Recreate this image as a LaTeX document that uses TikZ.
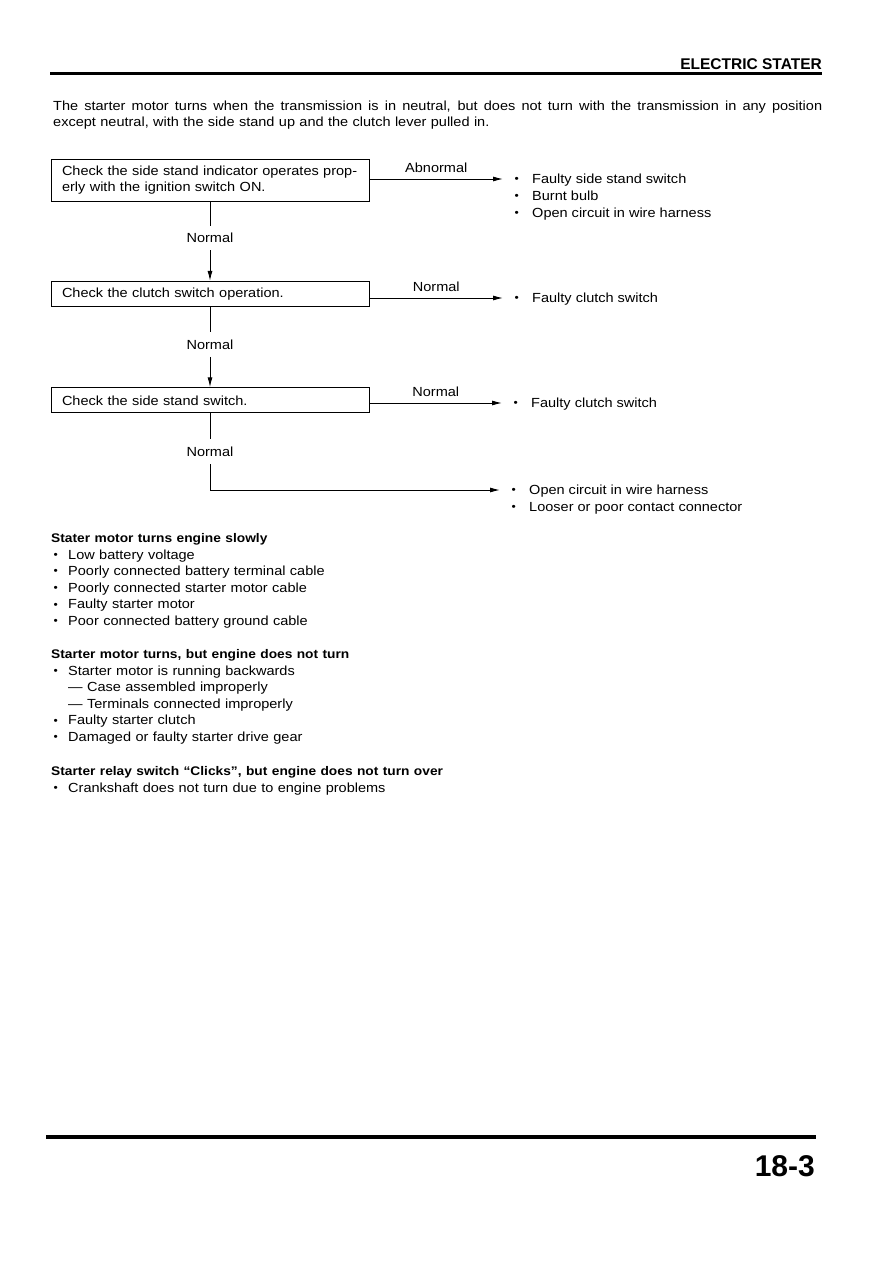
\documentclass[tikz,border=0pt]{standalone}
\usepackage{fontspec}
\setmainfont{Liberation Sans}[FakeStretch=1.1]
\newfontfamily\headfont{Liberation Sans}
\usetikzlibrary{positioning,arrows.meta}

\newcommand{\dotmark}{{\fontsize{11}{11}\selectfont\raisebox{0.9pt}{\textbullet}}}
\newcommand{\itm}{\makebox[29pt][l]{\hspace{11.5pt}\dotmark}}
\newcommand{\blt}{\makebox[17pt][l]{\hspace{2.5pt}\dotmark}}

\begin{document}
\begin{tikzpicture}[
    x=1pt, y=-1pt,
    every node/.style={font=\fontsize{13.2}{16}\selectfont},
    check/.style={rectangle, draw, line width=1pt, minimum width=318pt, text width=296pt, inner xsep=11pt, align=left},
    cond/.style={inner xsep=2pt, inner ysep=7.5pt, text height=9.5pt, text depth=0pt},
    res/.style={anchor=west, inner sep=0pt, text height=13pt, text depth=3.5pt},
    sect/.style={anchor=base west, inner sep=0pt, text width=420pt, align=left, font=\fontsize{13.2}{16.6}\selectfont},
    head/.style={anchor=base east, inner sep=0pt},
    arrow/.style={-{Latex[length=10pt,width=5pt]}, line width=1pt},
    conn/.style={line width=1pt},
    rule/.style={line width=3.6pt}
]
\useasboundingbox[fill=white] (0,0) rectangle (893,1263);

% ===== PAGE HEADER =====
\node[head, font=\headfont\fontsize{15.5}{15.5}\selectfont\bfseries] (title) at (822,70) {ELECTRIC STATER};
\draw[rule] (50,73.5) -- (822,73.5);

\node[anchor=base west, inner sep=0pt, text width=769pt, align=left, font=\fontsize{13.2}{16.8}\selectfont] (intro) at (53,110)
  {\makebox[769pt][s]{\spaceskip=3.6pt plus 1fil The starter motor turns when the transmission is in neutral, but does not turn with the transmission in any position}\\except neutral, with the side stand up and the clutch lever pulled in.};

% ===== CHECK CHAIN =====
\node[check, minimum height=42pt] (box1) at (210,180) {Check the side stand indicator operates prop-\\erly with the ignition switch ON.};
\node[cond, below=24pt of box1] (n1) {Normal};
\node[check, minimum height=25pt, below=30.5pt of n1] (box2) {Check the clutch switch operation.};
\node[cond, below=25pt of box2] (n2) {Normal};
\node[check, minimum height=25pt, below=30.5pt of n2] (box3) {Check the side stand switch.};
\node[cond, below=26pt of box3] (n3) {Normal};

% ===== RESULTS =====
\node[res] (r1) at (503,179) {\itm Faulty side stand switch};
\node[res, below=0pt of r1.south west, anchor=north west] (r1b) {\itm Burnt bulb};
\node[res, below=0pt of r1b.south west, anchor=north west] (r1c) {\itm Open circuit in wire harness};

\node[res] (r2) at (503,298) {\itm Faulty clutch switch};

\node[res] (r3) at (502,403) {\itm Faulty clutch switch};

\node[res] (r4) at (500,490) {\itm Open circuit in wire harness};
\node[res, below=0pt of r4.south west, anchor=north west] (r4b) {\itm Looser or poor contact connector};

% ===== ARROWS =====
\draw[conn] (box1) -- (n1);
\draw[arrow] (n1) -- (box2);
\draw[conn] (box2) -- (n2);
\draw[arrow] (n2) -- (box3);
\draw[conn] (box3) -- (n3);
\draw[arrow] (n3) |- (r4);

\draw[arrow] (box1.east |- r1) -- node[above=3pt] {Abnormal} (r1);
\draw[arrow] (box2.east |- r2) -- node[above=3pt] {Normal} (r2);
\draw[arrow] (box3.east |- r3) -- node[above=3pt] {Normal} (r3);

% ===== OTHER SYMPTOMS =====
\node[sect] (slow) at (51,542.5) {{\fontsize{12.5}{16.6}\selectfont\bfseries Stater motor turns engine slowly}\\
  \blt Low battery voltage\\
  \blt Poorly connected battery terminal cable\\
  \blt Poorly connected starter motor cable\\
  \blt Faulty starter motor\\
  \blt Poor connected battery ground cable};

\node[sect] (noturn) at (51,658.5) {{\fontsize{12.5}{16.6}\selectfont\bfseries Starter motor turns, but engine does not turn}\\
  \blt Starter motor is running backwards\\
  \hspace*{17pt}— Case assembled improperly\\
  \hspace*{17pt}— Terminals connected improperly\\
  \blt Faulty starter clutch\\
  \blt Damaged or faulty starter drive gear};

\node[sect] (clicks) at (51,775.5) {{\fontsize{12.5}{16.6}\selectfont\bfseries Starter relay switch “Clicks”, but engine does not turn over}\\
  \blt Crankshaft does not turn due to engine problems};

% ===== PAGE FOOTER =====
\draw[rule] (46,1137) -- (816,1137);
\node[head, font=\headfont\fontsize{30}{30}\selectfont\bfseries] (page) at (815,1176) {18-3};

\end{tikzpicture}
\end{document}
